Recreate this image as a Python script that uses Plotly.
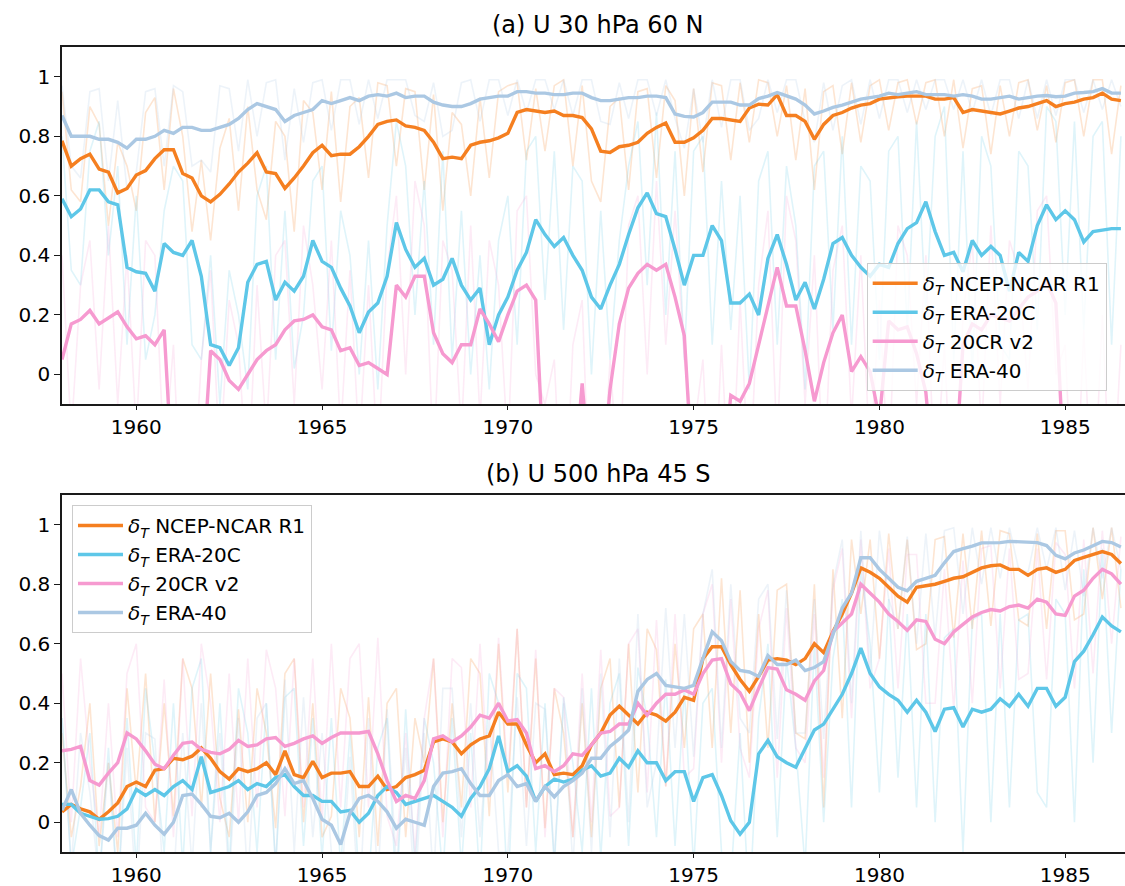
import plotly.graph_objects as go

# quarterly time axis, 1958.0 .. 1986.5
quarters = [round(1958 + 0.25 * i, 2) for i in range(115)]

series_names = ["NCEP-NCAR R1", "ERA-20C", "20CR v2", "ERA-40"]
line_colors = ["#f57f20", "#5ec7e8", "#f69ad0", "#abc8e3"]
faint_colors = ["rgba(245,127,32,0.2)", "rgba(94,199,232,0.2)",
                "rgba(246,154,208,0.2)", "rgba(171,200,227,0.22)"]

panel_titles = ["(a) U 30 hPa 60 N", "(b) U 500 hPa 45 S"]
x_ticks = [1960, 1965, 1970, 1975, 1980, 1985]
y_ticks = [0, 0.2, 0.4, 0.6, 0.8, 1]
y_ticktext = ["0", "0.2", "0.4", "0.6", "0.8", "1"]

# ---------------- panel (a): smoothed ----------------
a_ncep = [0.785, 0.70, 0.725, 0.74, 0.69, 0.68, 0.61, 0.625,
          0.67, 0.685, 0.725, 0.755, 0.755, 0.675, 0.66, 0.60,
          0.58, 0.605, 0.64, 0.68, 0.71, 0.745, 0.68, 0.675,
          0.625, 0.66, 0.70, 0.745, 0.77, 0.735, 0.74, 0.74,
          0.765, 0.80, 0.84, 0.85, 0.855, 0.835, 0.83, 0.82,
          0.78, 0.725, 0.73, 0.725, 0.77, 0.78, 0.785, 0.795,
          0.81, 0.88, 0.89, 0.885, 0.88, 0.885, 0.87, 0.87,
          0.863, 0.825, 0.75, 0.746, 0.765, 0.77, 0.78, 0.81,
          0.83, 0.845, 0.78, 0.78, 0.795, 0.82, 0.86, 0.86,
          0.855, 0.85, 0.895, 0.908, 0.905, 0.94, 0.87, 0.87,
          0.85, 0.79, 0.84, 0.87, 0.88, 0.895, 0.905, 0.91,
          0.925, 0.93, 0.933, 0.935, 0.935, 0.935, 0.925, 0.925,
          0.93, 0.88, 0.89, 0.885, 0.88, 0.875, 0.885, 0.895,
          0.90, 0.91, 0.92, 0.90, 0.91, 0.915, 0.925, 0.93,
          0.945, 0.925, 0.92]
a_era20c = [0.59, 0.53, 0.556, 0.62, 0.62, 0.58, 0.57, 0.36,
            0.345, 0.34, 0.28, 0.44, 0.41, 0.40, 0.45, 0.33,
            0.10, 0.09, 0.03, 0.09, 0.31, 0.37, 0.38, 0.25,
            0.31, 0.28, 0.33, 0.45, 0.38, 0.36, 0.29, 0.23,
            0.14, 0.21, 0.24, 0.33, 0.51, 0.42, 0.36, 0.39,
            0.30, 0.32, 0.39, 0.30, 0.25, 0.29, 0.10, 0.20,
            0.26, 0.35, 0.41, 0.52, 0.47, 0.43, 0.46, 0.40,
            0.35, 0.26, 0.22, 0.30, 0.37, 0.47, 0.56, 0.61,
            0.54, 0.53, 0.42, 0.30, 0.40, 0.40, 0.50, 0.45,
            0.24, 0.24, 0.27, 0.20, 0.39, 0.47, 0.37, 0.25,
            0.31, 0.22, 0.32, 0.44, 0.46, 0.40, 0.36, 0.33,
            0.37, 0.36, 0.44, 0.49, 0.51, 0.58, 0.48, 0.40,
            0.41, 0.345, 0.45, 0.40, 0.43, 0.40, 0.28, 0.41,
            0.38, 0.50, 0.57, 0.52, 0.55, 0.52, 0.445, 0.48,
            0.485, 0.49, 0.49]
a_20cr = [0.05, 0.17, 0.185, 0.215, 0.17, 0.19, 0.21, 0.16,
          0.12, 0.13, 0.10, 0.15, -0.4, -0.4, -0.4, -0.4,
          0.08, 0.05, -0.02, -0.05, 0.0, 0.05, 0.08, 0.10,
          0.15, 0.18, 0.185, 0.20, 0.16, 0.15, 0.08, 0.09,
          0.03, 0.04, 0.02, 0.0, 0.30, 0.26, 0.33, 0.33,
          0.14, 0.07, 0.04, 0.10, 0.10, 0.22, 0.17, 0.11,
          0.20, 0.28, 0.30, 0.25, -0.4, -0.4, -0.4, -0.4,
          -0.03, -0.4, -0.4, -0.05, 0.17, 0.29, 0.34, 0.37,
          0.35, 0.37, 0.26, 0.13, -0.4, -0.4, -0.4, -0.4,
          -0.07, -0.09, -0.03, 0.10, 0.22, 0.36, 0.23, 0.23,
          0.08, -0.09, 0.04, 0.14, 0.20, 0.01, 0.06, 0.01,
          -0.15, 0.18, 0.15, 0.16, 0.07, -0.06, -0.4, -0.4,
          -0.4, 0.10, 0.17, 0.15, 0.20, 0.19, 0.18, 0.22,
          0.26, 0.28, 0.31, 0.24, -0.4, -0.4, -0.4, -0.4,
          -0.4, -0.4, -0.4]
a_era40 = [0.87, 0.80, 0.80, 0.80, 0.79, 0.79, 0.78, 0.76,
           0.79, 0.79, 0.80, 0.82, 0.81, 0.83, 0.83, 0.82,
           0.82, 0.83, 0.84, 0.86, 0.89, 0.91, 0.90, 0.89,
           0.85, 0.87, 0.88, 0.89, 0.92, 0.91, 0.92, 0.93,
           0.92, 0.935, 0.94, 0.935, 0.945, 0.93, 0.935, 0.935,
           0.915, 0.905, 0.90, 0.90, 0.91, 0.925, 0.93, 0.935,
           0.935, 0.95, 0.95, 0.945, 0.945, 0.94, 0.94, 0.945,
           0.945, 0.93, 0.92, 0.92, 0.925, 0.93, 0.93, 0.935,
           0.935, 0.93, 0.875, 0.867, 0.865, 0.88, 0.915, 0.915,
           0.915, 0.905, 0.905, 0.927, 0.935, 0.947, 0.935, 0.925,
           0.905, 0.875, 0.885, 0.897, 0.905, 0.915, 0.925, 0.93,
           0.935, 0.945, 0.94, 0.945, 0.95, 0.94, 0.94, 0.94,
           0.935, 0.94, 0.935, 0.925, 0.925, 0.93, 0.935, 0.925,
           0.93, 0.935, 0.937, 0.933, 0.935, 0.945, 0.947, 0.95,
           0.96, 0.945, 0.945]

# ---------------- panel (a): raw (faint) ----------------
a_ncep_raw = [0.95, 0.62, 0.58, 0.90, 0.84, 0.50, 0.78, 0.70,
              0.55, 0.88, 0.93, 0.62, 0.96, 0.80, 0.48, 0.72,
              0.45, 0.76, 0.86, 0.55, 0.90, 0.62, 0.52, 0.85,
              0.80, 0.48, 0.92, 0.88, 0.62, 0.95, 0.58, 0.90,
              0.93, 0.66, 0.98, 0.97, 0.70, 0.96, 0.95, 0.62,
              0.94, 0.55, 0.88, 0.84, 0.60, 0.93, 0.66, 0.95,
              0.97, 0.98, 0.72, 0.96, 0.75, 0.97, 0.99, 0.70,
              0.97, 0.65, 0.58, 0.90, 0.93, 0.62, 0.95, 0.96,
              0.66, 0.97, 0.92, 0.60, 0.96, 0.68, 0.98, 0.97,
              0.72, 0.98, 0.78, 0.99, 0.98, 0.80, 0.97, 0.72,
              0.96, 0.62, 0.95, 0.97, 0.74, 0.98, 0.78, 0.97,
              0.99, 0.82, 0.98, 0.99, 0.84, 0.98, 0.99, 0.80,
              0.99, 0.76, 0.96, 0.97, 0.74, 0.97, 0.80, 0.98,
              0.99, 0.82, 0.97, 0.78, 0.98, 0.99, 0.80, 0.99,
              0.99, 0.74, 0.97]
a_era20c_raw = [0.80, 0.35, 0.30, 0.75, 0.85, 0.40, 0.70, 0.10,
                0.60, 0.05, 0.20, 0.55, 0.70, 0.65, 0.10, 0.05,
                0.40, -0.10, 0.35, 0.20, -0.05, 0.60, 0.70, 0.05,
                0.55, 0.02, 0.20, 0.65, 0.70, 0.08, 0.55, 0.40,
                0.0, 0.45, -0.05, 0.50, 0.85, 0.70, 0.20, 0.65,
                0.10, 0.75, 0.05, 0.55, 0.0, 0.40, -0.05, 0.45,
                0.60, 0.10, 0.75, 0.80, 0.25, 0.75, 0.15, 0.70,
                0.65, 0.0, 0.55, 0.05, 0.45, 0.70, 0.85, 0.30,
                0.88, 0.20, 0.75, 0.05, 0.75, 0.80, 0.10, 0.65,
                0.15, 0.60, -0.05, 0.65, 0.75, 0.10, 0.70, 0.50,
                -0.05, 0.70, 0.75, 0.15, 0.80, 0.10, 0.70, 0.65,
                0.05, 0.75, 0.80, 0.15, 0.85, 0.20, 0.80, 0.90,
                0.05, 0.75, 0.0, 0.80, 0.70, 0.10, 0.05, 0.75,
                0.70, 0.15, 0.90, 0.85, 0.20, 0.85, 0.15, 0.80,
                0.85, 0.10, 0.80]
a_20cr_raw = [0.40, -0.20, 0.30, 0.45, -0.05, 0.50, -0.10, 0.40,
              -0.20, 0.45, 0.40, -0.30, 0.10, -0.60, -0.50, 0.05,
              0.35, -0.30, 0.25, 0.10, -0.40, 0.30, -0.20, 0.40,
              0.45, -0.10, 0.50, 0.30, -0.05, 0.45, -0.20, 0.35,
              -0.25, 0.30, -0.30, 0.35, 0.60, 0.0, 0.65, 0.50,
              -0.30, 0.45, 0.35, -0.20, 0.50, -0.15, 0.45, 0.30,
              -0.25, 0.55, 0.60, 0.0, -0.10, 0.05, -0.60, 0.10,
              0.25, -0.60, -0.50, 0.05, -0.40, 0.50, 0.60, 0.0,
              0.65, 0.10, 0.55, 0.05, -0.20, 0.05, -0.60, 0.10,
              -0.50, 0.25, -0.40, 0.30, 0.55, -0.25, 0.60, 0.45,
              -0.10, 0.40, -0.40, 0.35, 0.50, -0.15, 0.40, -0.30,
              0.25, -0.35, 0.50, 0.40, -0.10, 0.40, -0.40, 0.10,
              -0.60, 0.20, 0.45, -0.20, 0.50, -0.10, 0.45, 0.35,
              -0.05, 0.55, 0.60, 0.0, 0.10, -0.60, 0.15, -0.50,
              0.20, -0.50, 0.10]
a_era40_raw = [0.97, 0.70, 0.66, 0.95, 0.96, 0.65, 0.92, 0.62,
               0.68, 0.95, 0.96, 0.70, 0.97, 0.95, 0.70, 0.72,
               0.68, 0.97, 0.96, 0.75, 0.99, 0.80, 0.98, 0.99,
               0.72, 0.96, 0.78, 0.98, 0.99, 0.82, 0.99, 0.99,
               0.84, 0.99, 0.86, 0.99, 0.99, 0.99, 0.87, 0.85,
               0.98, 0.80, 0.82, 0.98, 0.99, 0.85, 0.99, 0.99,
               0.87, 0.99, 0.88, 0.99, 0.99, 0.89, 0.99, 0.87,
               0.99, 0.99, 0.85, 0.84, 0.98, 0.86, 0.99, 0.99,
               0.87, 0.99, 0.86, 0.76, 0.96, 0.78, 0.99, 0.83,
               0.99, 0.99, 0.82, 0.86, 0.99, 0.88, 0.99, 0.99,
               0.85, 0.78, 0.98, 0.82, 0.97, 0.99, 0.84, 0.99,
               0.86, 0.99, 0.99, 0.88, 0.99, 0.89, 0.99, 0.99,
               0.89, 0.99, 0.88, 0.99, 0.87, 0.99, 0.99, 0.86,
               0.99, 0.86, 0.99, 0.87, 0.99, 0.99, 0.88, 0.99,
               0.89, 0.99, 0.90]

# ---------------- panel (b): smoothed ----------------
b_ncep = [0.035, 0.06, 0.045, 0.035, 0.01, 0.035, 0.065, 0.12,
          0.135, 0.12, 0.175, 0.18, 0.215, 0.21, 0.222, 0.25,
          0.215, 0.17, 0.145, 0.18, 0.17, 0.18, 0.20, 0.16,
          0.24, 0.16, 0.15, 0.205, 0.15, 0.165, 0.165, 0.17,
          0.12, 0.12, 0.155, 0.11, 0.12, 0.15, 0.16, 0.175,
          0.27, 0.28, 0.27, 0.23, 0.26, 0.28, 0.29, 0.37,
          0.33, 0.33, 0.26, 0.20, 0.23, 0.16, 0.165, 0.16,
          0.19, 0.26, 0.30, 0.36, 0.39, 0.36, 0.33, 0.37,
          0.36, 0.34, 0.37, 0.42, 0.41, 0.55, 0.59, 0.59,
          0.53, 0.48, 0.44, 0.49, 0.545, 0.55, 0.545, 0.53,
          0.55, 0.60, 0.57, 0.64, 0.70, 0.77, 0.855, 0.84,
          0.82, 0.79, 0.76, 0.74, 0.79, 0.795, 0.80, 0.81,
          0.82, 0.825, 0.84, 0.855, 0.862, 0.865, 0.85, 0.85,
          0.83, 0.85, 0.855, 0.84, 0.85, 0.88, 0.89, 0.90,
          0.91, 0.90, 0.87]
b_era20c = [0.06, 0.06, 0.03, 0.02, 0.01, 0.012, 0.02, 0.045,
            0.11, 0.09, 0.11, 0.09, 0.12, 0.14, 0.11, 0.22,
            0.10, 0.11, 0.12, 0.14, 0.11, 0.13, 0.12, 0.15,
            0.16, 0.12, 0.09, 0.09, 0.07, 0.07, 0.035, 0.04,
            0.0, 0.03, 0.09, 0.12, 0.10, 0.06, 0.07, 0.08,
            0.09, 0.07, 0.05, 0.02, 0.08, 0.12, 0.18, 0.29,
            0.17, 0.19, 0.155, 0.07, 0.12, 0.145, 0.135, 0.145,
            0.175, 0.19, 0.155, 0.165, 0.215, 0.185, 0.24, 0.20,
            0.20, 0.14, 0.17, 0.17, 0.07, 0.15, 0.16, 0.09,
            0.005, -0.04, 0.0, 0.23, 0.275, 0.22, 0.20, 0.185,
            0.25, 0.31, 0.33, 0.38, 0.43, 0.50, 0.585, 0.50,
            0.455, 0.43, 0.41, 0.37, 0.41, 0.37, 0.305, 0.38,
            0.385, 0.32, 0.38, 0.37, 0.38, 0.415, 0.39, 0.43,
            0.39, 0.45, 0.45, 0.39, 0.42, 0.54, 0.575, 0.63,
            0.69, 0.66, 0.64]
b_20cr = [0.24, 0.245, 0.255, 0.14, 0.125, 0.165, 0.20, 0.30,
          0.28, 0.24, 0.195, 0.18, 0.225, 0.265, 0.27, 0.245,
          0.235, 0.23, 0.245, 0.275, 0.255, 0.26, 0.28, 0.285,
          0.255, 0.265, 0.28, 0.29, 0.265, 0.285, 0.30, 0.30,
          0.30, 0.305, 0.23, 0.14, 0.07, 0.09, 0.08, 0.14,
          0.28, 0.29, 0.27, 0.29, 0.32, 0.36, 0.35, 0.40,
          0.34, 0.345, 0.30, 0.18, 0.19, 0.17, 0.19, 0.23,
          0.225, 0.26, 0.30, 0.305, 0.33, 0.33, 0.40, 0.36,
          0.40, 0.43, 0.43, 0.445, 0.43, 0.50, 0.545, 0.55,
          0.465, 0.435, 0.375, 0.45, 0.52, 0.515, 0.445, 0.43,
          0.41, 0.475, 0.51, 0.64, 0.67, 0.70, 0.80, 0.77,
          0.74, 0.70, 0.675, 0.645, 0.68, 0.675, 0.615, 0.60,
          0.64, 0.665, 0.69, 0.705, 0.715, 0.71, 0.725, 0.73,
          0.72, 0.75, 0.74, 0.70, 0.695, 0.76, 0.78, 0.82,
          0.85, 0.835, 0.80]
b_era40 = [0.04, 0.11, 0.03, -0.01, -0.045, -0.06, -0.02, -0.02,
           -0.01, 0.03, -0.01, -0.04, 0.0, 0.09, 0.095, 0.06,
           0.02, 0.015, 0.03, 0.0, 0.035, 0.09, 0.10, 0.13,
           0.18, 0.13, 0.14, 0.08, 0.01, -0.01, -0.075, 0.03,
           0.08, 0.09, 0.07, 0.035, -0.02, 0.01, 0.0, -0.01,
           0.12, 0.165, 0.17, 0.18, 0.13, 0.09, 0.09, 0.14,
           0.16, 0.12, 0.13, 0.07, 0.12, 0.085, 0.12, 0.14,
           0.165, 0.215, 0.215, 0.255, 0.28, 0.31, 0.44, 0.48,
           0.50, 0.46, 0.455, 0.45, 0.46, 0.55, 0.64, 0.61,
           0.54, 0.51, 0.505, 0.49, 0.56, 0.53, 0.53, 0.545,
           0.51, 0.52, 0.54, 0.63, 0.72, 0.77, 0.889, 0.889,
           0.85, 0.82, 0.79, 0.778, 0.81, 0.82, 0.83, 0.872,
           0.91, 0.92, 0.928, 0.939, 0.94, 0.94, 0.944, 0.942,
           0.94, 0.94, 0.93, 0.897, 0.885, 0.905, 0.915, 0.93,
           0.944, 0.94, 0.925]

# ---------------- panel (b): raw (faint) ----------------
b_ncep_raw = [0.30, -0.05, 0.12, 0.40, -0.08, 0.20, -0.10, 0.45,
              0.10, 0.50, 0.0, 0.40, 0.02, 0.55, 0.45, 0.05,
              0.50, 0.08, -0.05, 0.38, 0.0, 0.45, 0.30, -0.02,
              0.50, 0.55, 0.0, 0.40, -0.05, 0.02, 0.45, 0.35,
              -0.05, 0.42, -0.08, 0.40, 0.45, -0.05, 0.35, 0.20,
              0.55, 0.0, 0.40, 0.05, 0.55, 0.50, 0.02, 0.60,
              0.10, 0.65, 0.05, 0.55, -0.02, 0.45, 0.30, -0.05,
              0.40, -0.05, 0.45, 0.55, 0.05, 0.60, 0.10, 0.65,
              0.58, 0.12, 0.60, 0.25, 0.65, 0.70, 0.25, 0.82,
              0.30, 0.78, 0.20, 0.70, 0.25, 0.78, 0.80, 0.30,
              0.28, 0.80, 0.05, 0.85, 0.35, 0.95, 0.70, 0.95,
              0.55, 0.97, 0.65, 0.95, 0.58, 0.60, 0.95, 0.96,
              0.62, 0.97, 0.65, 0.98, 0.66, 0.98, 0.97, 0.68,
              0.66, 0.97, 0.65, 0.98, 0.98, 0.68, 0.70, 0.99,
              0.75, 0.99, 0.72]
b_era20c_raw = [0.35, -0.15, 0.05, 0.30, -0.20, 0.25, -0.25, 0.35,
                -0.15, 0.45, 0.20, -0.10, 0.40, -0.15, 0.45, 0.55,
                -0.10, 0.40, -0.15, 0.45, 0.30, -0.10, 0.40, -0.15,
                0.42, 0.45, -0.08, 0.35, -0.12, 0.35, -0.15, 0.30,
                -0.20, -0.20, 0.25, 0.35, -0.25, 0.38, -0.15, 0.35,
                0.20, -0.18, 0.35, -0.15, 0.30, -0.20, 0.50, 0.40,
                -0.25, 0.50, 0.45, -0.10, 0.40, -0.15, 0.42, 0.20,
                -0.10, 0.45, -0.12, 0.40, 0.50, -0.08, 0.52, 0.35,
                -0.05, 0.48, -0.08, 0.45, -0.15, 0.40, 0.45, -0.10,
                -0.20, 0.30, -0.30, 0.35, 0.60, -0.05, 0.55, 0.25,
                -0.15, 0.60, 0.0, 0.55, 0.75, 0.05, 0.85, 0.60,
                0.10, 0.75, 0.15, 0.70, 0.05, 0.70, 0.0, 0.62,
                0.65, -0.10, 0.68, 0.70, 0.0, 0.70, 0.05, 0.68,
                0.70, 0.10, 0.05, 0.75, 0.70, 0.0, 0.85, 0.20,
                0.92, 0.30, 0.85]
b_20cr_raw = [0.50, 0.0, 0.55, 0.20, -0.05, 0.40, -0.05, 0.50,
              0.60, 0.05, 0.0, 0.48, -0.05, 0.55, 0.02, 0.60,
              0.40, 0.0, 0.50, 0.0, 0.55, 0.05, 0.58, 0.45,
              0.02, 0.55, 0.05, 0.55, 0.0, 0.60, 0.05, 0.55,
              0.60, 0.05, 0.62, 0.02, -0.08, 0.30, -0.10, 0.35,
              0.55, -0.05, 0.55, 0.52, 0.05, 0.60, 0.10, 0.62,
              0.15, 0.65, 0.05, 0.58, -0.05, 0.45, 0.42, -0.05,
              0.50, 0.0, 0.58, 0.02, 0.05, 0.60, 0.65, 0.10,
              0.68, 0.12, 0.70, 0.15, 0.18, 0.70, 0.80, 0.20,
              0.75, 0.25, 0.15, 0.65, 0.78, 0.15, 0.72, 0.25,
              0.20, 0.70, 0.15, 0.78, 0.92, 0.35, 0.95, 0.45,
              0.55, 0.92, 0.45, 0.90, 0.90, 0.40, 0.40, 0.85,
              0.38, 0.88, 0.40, 0.92, 0.93, 0.45, 0.92, 0.48,
              0.50, 0.92, 0.48, 0.94, 0.90, 0.45, 0.95, 0.50,
              0.98, 0.60, 0.96]
b_era40_raw = [0.35, -0.15, 0.30, 0.10, -0.20, 0.20, -0.25, 0.25,
               -0.25, 0.30, 0.28, -0.25, -0.20, 0.30, -0.15, 0.40,
               -0.10, 0.30, -0.20, 0.35, -0.20, 0.35, 0.40, -0.15,
               0.48, -0.10, 0.42, -0.05, 0.30, -0.10, -0.25, 0.22,
               -0.30, 0.35, -0.20, 0.38, -0.15, 0.25, -0.25, 0.30,
               -0.20, 0.45, 0.45, -0.05, 0.40, -0.05, 0.35, -0.10,
               -0.10, 0.42, -0.08, 0.40, 0.38, -0.12, 0.40, -0.15,
               0.45, -0.10, 0.50, -0.05, 0.55, 0.0, 0.70, 0.05,
               0.20, 0.72, 0.25, 0.70, 0.22, 0.70, 0.85, 0.25,
               0.80, 0.35, 0.30, 0.75, 0.80, 0.28, 0.78, 0.30,
               0.30, 0.75, 0.28, 0.80, 0.95, 0.40, 0.98, 0.50,
               0.98, 0.75, 0.65, 0.96, 0.60, 0.97, 0.62, 0.98,
               0.99, 0.70, 0.99, 0.80, 0.99, 0.82, 0.99, 0.85,
               0.84, 0.99, 0.85, 0.99, 0.78, 0.98, 0.76, 0.99,
               0.82, 0.99, 0.85]

panels = [
    ([a_ncep_raw, a_era20c_raw, a_20cr_raw, a_era40_raw],
     [a_ncep, a_era20c, a_20cr, a_era40]),
    ([b_ncep_raw, b_era20c_raw, b_20cr_raw, b_era40_raw],
     [b_ncep, b_era20c, b_20cr, b_era40]),
]
for raws, smooths in panels:
    for s in raws + smooths:
        assert len(s) == len(quarters), len(s)

FONT = "DejaVu Sans, Liberation Sans, sans-serif"
fig = go.Figure()

for p, (raws, smooths) in enumerate(panels):
    xa = "x" if p == 0 else "x2"
    ya = "y" if p == 0 else "y2"
    lg = "legend" if p == 0 else "legend2"
    for k, vals in enumerate(raws):
        fig.add_trace(go.Scatter(
            x=quarters, y=vals, mode="lines", xaxis=xa, yaxis=ya,
            line=dict(color=faint_colors[k], width=1.6),
            showlegend=False, hoverinfo="skip"))
    for k, vals in enumerate(smooths):
        fig.add_trace(go.Scatter(
            x=quarters, y=vals, mode="lines", xaxis=xa, yaxis=ya,
            line=dict(color=line_colors[k], width=3.4),
            name="<i>δ</i><sub><i>T</i></sub> " + series_names[k],
            legend=lg, showlegend=True))

axis_common = dict(
    showgrid=False, zeroline=False, showline=True, linecolor="#1a1a1a",
    linewidth=1.5, ticks="outside", tickwidth=1.3,
    tickcolor="#1a1a1a", tickfont=dict(family=FONT, size=20, color="black"),
    automargin=False,
)
x_range = [1958, 1986.61]
y_range = [-0.1, 1.1]

fig.update_layout(
    width=1125, height=886,
    margin=dict(l=62, r=0, t=47, b=34, autoexpand=False),
    paper_bgcolor="white", plot_bgcolor="white",
    font=dict(family=FONT, size=20, color="black"),
    xaxis=dict(domain=[0, 1], range=x_range, anchor="y", tickvals=x_ticks,
               mirror=True, ticklen=4, **axis_common),
    yaxis=dict(domain=[0.5562, 1], range=y_range, anchor="x", tickvals=y_ticks,
               ticktext=y_ticktext, mirror=False, ticklen=6, **axis_common),
    xaxis2=dict(domain=[0, 1], range=x_range, anchor="y2", tickvals=x_ticks,
                mirror=True, ticklen=4, **axis_common),
    yaxis2=dict(domain=[0, 0.4435], range=y_range, anchor="x2", tickvals=y_ticks,
                ticktext=y_ticktext, mirror=False, ticklen=6, **axis_common),
    legend=dict(x=0.757, y=0.732, xanchor="left", yanchor="top",
                bgcolor="rgba(255,255,255,0.8)", bordercolor="#cccccc",
                borderwidth=1, font=dict(family=FONT, size=20, color="black"),
                itemwidth=45, tracegroupgap=0),
    legend2=dict(x=0.0094, y=0.431, xanchor="left", yanchor="top",
                 bgcolor="rgba(255,255,255,0.8)", bordercolor="#cccccc",
                 borderwidth=1, font=dict(family=FONT, size=20, color="black"),
                 itemwidth=45, tracegroupgap=0),
    annotations=[
        dict(text=panel_titles[0], xref="paper", yref="paper", x=0.5047,
             y=1.0273, xanchor="center", yanchor="middle", showarrow=False,
             font=dict(family=FONT, size=24, color="black")),
        dict(text=panel_titles[1], xref="paper", yref="paper", x=0.5047,
             y=0.4696, xanchor="center", yanchor="middle", showarrow=False,
             font=dict(family=FONT, size=24, color="black")),
    ],
)

# remove the browser's default 8 px page margin so the figure fills the window
fig.write_html("out.html",
               config={"displayModeBar": False},
               post_script="document.body.style.margin='0';"
                           "document.body.style.overflow='hidden';")
